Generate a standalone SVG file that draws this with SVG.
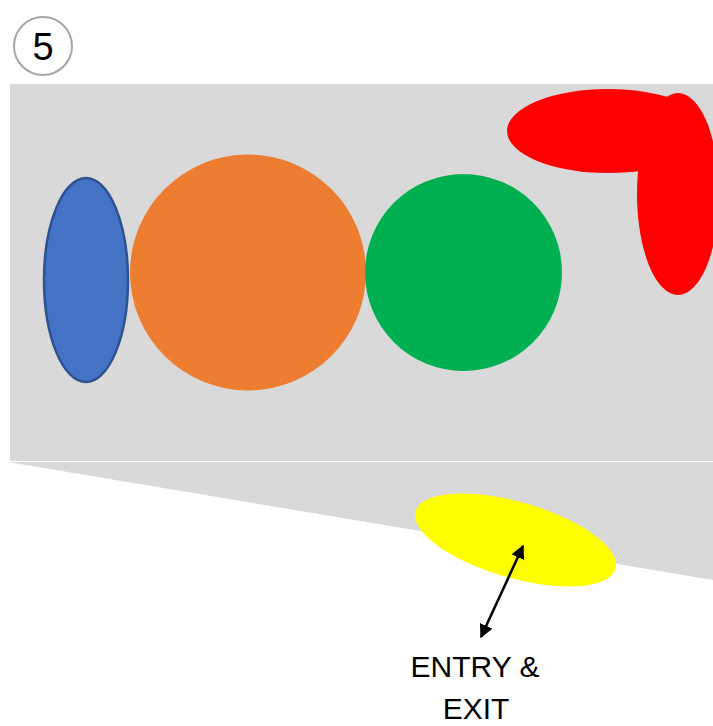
<svg xmlns="http://www.w3.org/2000/svg" width="713" height="726" viewBox="0 0 713 726">
<defs>
<marker id="ah" viewBox="0 0 10 10" refX="9" refY="5" markerWidth="5.5" markerHeight="5.5" orient="auto-start-reverse" markerUnits="strokeWidth">
<path d="M0,0 L10,5 L0,10 z" fill="#000"/>
</marker>
<style>
.lbl{font-family:"Liberation Sans",Arial,sans-serif;fill:#000;text-anchor:middle}
</style>
</defs>
<rect width="713" height="726" fill="#fff"/>
<g id="step">
<circle cx="43" cy="46" r="29" fill="#fff" stroke="#A6A6A6" stroke-width="2"/>
<text x="43" y="60" class="lbl" font-size="38">5</text>
</g>
<g id="area">
<rect x="10" y="84" width="703" height="377" fill="#D9D9D9"/>
<polygon points="8,462 713,462 713,580" fill="#D9D9D9"/>
</g>
<g id="blue"><ellipse cx="86" cy="280" rx="42" ry="102" fill="#4472C4" stroke="#2F528F" stroke-width="2.5"/></g>
<g id="orange"><circle cx="248" cy="272.5" r="118" fill="#ED7D31"/></g>
<g id="green"><circle cx="463.5" cy="272.5" r="98.5" fill="#00B050"/></g>
<g id="red">
<ellipse cx="608" cy="131" rx="101" ry="42" fill="#FF0000"/>
<ellipse cx="678" cy="194" rx="41" ry="101" fill="#FF0000"/>
</g>
<g id="yellow"><ellipse cx="515.5" cy="540" rx="104" ry="38" transform="rotate(16 515.5 540)" fill="#FFFF00"/></g>
<g id="connectors">
<line x1="523" y1="546" x2="481" y2="637" stroke="#000" stroke-width="2.5" marker-start="url(#ah)" marker-end="url(#ah)"/>
</g>
<g id="label">
<text x="475" y="677" class="lbl" font-size="30">ENTRY &amp;</text>
<text x="476" y="719" class="lbl" font-size="30">EXIT</text>
</g>
</svg>
